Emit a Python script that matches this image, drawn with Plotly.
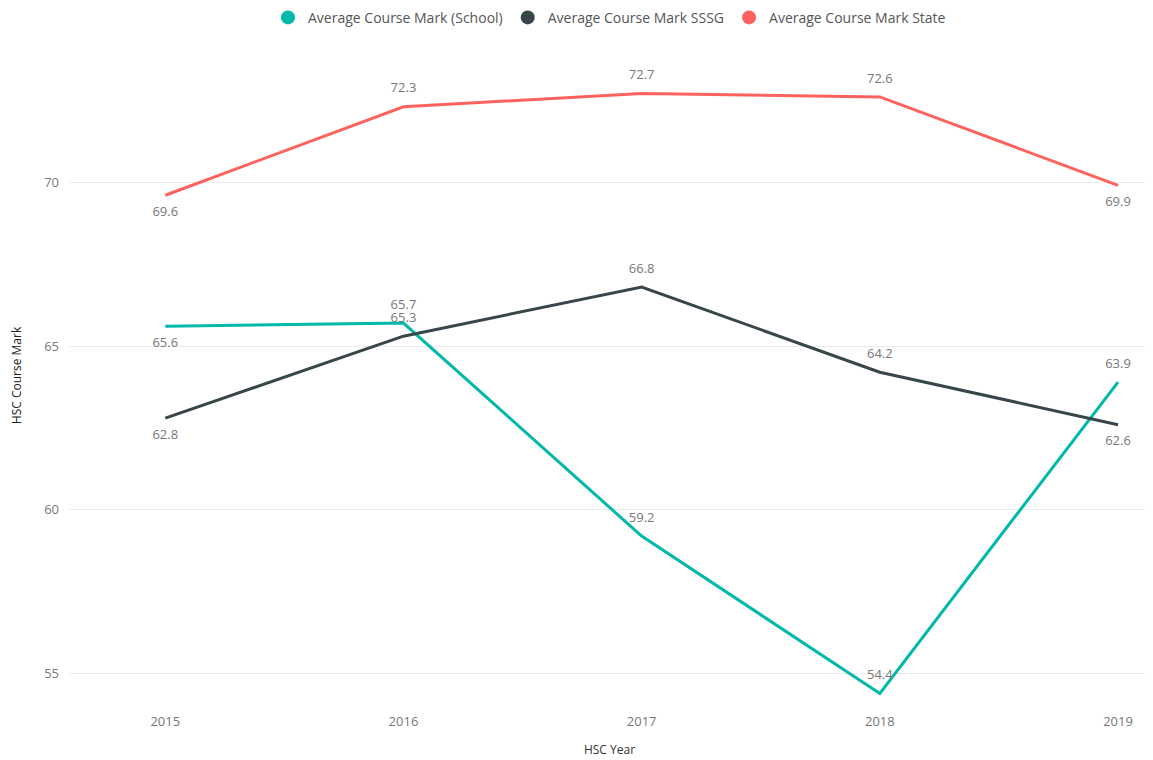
import plotly.graph_objects as go

years = [2015, 2016, 2017, 2018, 2019]
school = [65.6, 65.7, 59.2, 54.4, 63.9]
sssg = [62.8, 65.3, 66.8, 64.2, 62.6]
state = [69.6, 72.3, 72.7, 72.6, 69.9]

names = ['Average Course Mark (School)', 'Average Course Mark SSSG', 'Average Course Mark State']
colors = ['#01B8AA', '#374649', '#FD625E']
# label placement per point
positions = [
    ['bottom center', 'top center', 'top center', 'top center', 'top center'],
    ['bottom center', 'top center', 'top center', 'top center', 'bottom center'],
    ['bottom center', 'top center', 'top center', 'top center', 'bottom center'],
]

fig = go.Figure()
for vals, name, col, pos in zip([school, sssg, state], names, colors, positions):
    # invisible markers keep the data labels a little off the line
    fig.add_trace(go.Scatter(x=years, y=vals, mode='lines+markers+text', name=name,
                             line=dict(color=col, width=3),
                             marker=dict(size=16, opacity=0, color=col),
                             text=['%.1f' % v for v in vals], textposition=pos,
                             textfont=dict(color='#777777', size=13),
                             showlegend=False, hoverinfo='x+y+name'))
    # legend entry with a round marker
    fig.add_trace(go.Scatter(x=[None], y=[None], mode='markers', name=name,
                             marker=dict(color=col, size=14, symbol='circle')))

# page body adds ~8px offset, so figure is a bit smaller than the window
fig.update_layout(
    width=1145, height=752,
    paper_bgcolor='white', plot_bgcolor='white',
    font=dict(family='Open Sans, sans-serif', size=12, color='#777777'),
    margin=dict(l=62, r=4, t=43, b=60, autoexpand=False),
    legend=dict(orientation='h', x=0.5, xanchor='center', y=0.987, yanchor='middle',
                yref='container', font=dict(color='#555555', size=14),
                itemwidth=30, tracegroupgap=0),
    xaxis=dict(title=dict(text='HSC Year', font=dict(color='#333333', size=12), standoff=16),
               range=[2014.6, 2019.13], tickvals=years, showgrid=False, zeroline=False,
               tickfont=dict(size=13), ticklabelstandoff=12),
    yaxis=dict(title=dict(text='HSC Course Mark', font=dict(color='#222222', size=12), standoff=20),
               range=[54.2, 74.0], tickvals=[55, 60, 65, 70], showgrid=True,
               gridcolor='#EAEAEA', zeroline=False, tickfont=dict(size=13),
               ticklabelstandoff=10),
)

fig.write_html("out.html")
